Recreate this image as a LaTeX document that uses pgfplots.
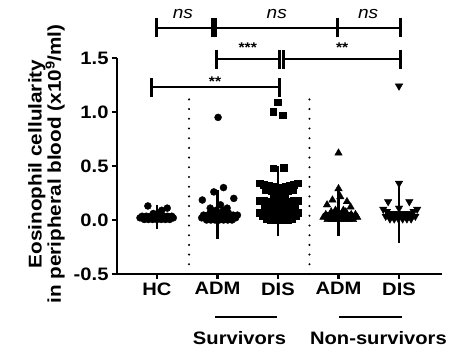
\documentclass[border=0pt]{standalone}
\usepackage{fontspec}
\setmainfont{Liberation Sans}[FakeStretch=1.12]
\usepackage{pgfplots}
\pgfplotsset{compat=1.18}
\newcommand{\sigbar}[3]{%
  \draw[line width=2.4pt] (axis cs:#1,#3) -- (axis cs:#2,#3);
  \draw[line width=3pt] ([yshift=-9.5pt]axis cs:#1,#3) -- ([yshift=9.5pt]axis cs:#1,#3);
  \draw[line width=3pt] ([yshift=-9.5pt]axis cs:#2,#3) -- ([yshift=9.5pt]axis cs:#2,#3);}
\begin{document}
\begin{tikzpicture}
\begin{axis}[
  at={(0,0)}, anchor=south west,
  scale only axis, width=325pt, height=216pt,
  xmin=-0.66, xmax=4.71, ymin=-0.5, ymax=1.5,
  axis x line=bottom, axis y line=left,
  axis line style={-, line width=2.4pt},
  clip=false,
  xtick={0,1,2,3,4}, xticklabels={HC,ADM,DIS,ADM,DIS},
  ytick={-0.5,0,0.5,1,1.5}, yticklabels={-0.5,0.0,0.5,1.0,1.5},
  tick align=outside, major tick length=5pt,
  tick style={line width=2.4pt, black},
  xticklabel style={font=\fontsize{18}{20}\selectfont\bfseries},
  yticklabel style={font=\fontsize{18}{20}\selectfont\bfseries},
]
% dotted separators
\draw[line width=2.3pt, line cap=round, dash pattern=on 0pt off 9.7pt] (axis cs:0.53,-0.5) -- (axis cs:0.53,1.13);
\draw[line width=2.3pt, line cap=round, dash pattern=on 0pt off 9.7pt] (axis cs:2.52,-0.5) -- (axis cs:2.52,1.13);

% HC
\addplot[only marks, mark=*, mark size=3.5pt, black] coordinates {
(-0.21,0.005)(-0.14,0.005)(-0.07,0.005)(0,0.005)(0.07,0.005)(0.14,0.005)(0.21,0.005)
(-0.28,0.02)(-0.21,0.02)(-0.14,0.02)(-0.07,0.02)(0,0.02)(0.07,0.02)(0.14,0.02)(0.21,0.02)(0.27,0.02)
(-0.245,0.035)(-0.175,0.035)(-0.105,0.035)(-0.035,0.035)(0.035,0.035)(0.105,0.035)(0.175,0.035)(0.245,0.035)
(-0.06,0.06)(0.04,0.065)(0.08,0.09)(0.17,0.11)(-0.15,0.13)
};
% ADM survivors
\addplot[only marks, mark=*, mark size=3.5pt, black] coordinates {
(0.82,0.0)(0.89,0.0)(0.96,0.0)(1.03,0.0)(1.10,0.0)(1.17,0.0)(1.24,0.0)
(0.74,0.02)(0.81,0.02)(0.88,0.02)(0.95,0.02)(1.02,0.02)(1.09,0.02)(1.16,0.02)(1.23,0.02)(1.30,0.02)
(0.77,0.045)(0.84,0.045)(0.91,0.045)(0.98,0.045)(1.05,0.045)(1.12,0.045)(1.19,0.045)(1.26,0.045)(1.33,0.045)
(0.88,0.065)(0.98,0.065)(1.08,0.065)(1.18,0.065)
(0.98,0.09)(1.10,0.09)(0.88,0.11)(1.05,0.14)(1.16,0.11)
(0.75,0.185)(1.27,0.20)(0.94,0.26)(1.10,0.30)(1.01,0.95)
};
% DIS survivors
\addplot[only marks, mark=square*, mark size=3.4pt, black] coordinates {
(1.70,0.34)(1.77,0.33)(1.84,0.32)(1.91,0.31)(1.98,0.30)(2.05,0.30)(2.12,0.31)(2.19,0.32)(2.26,0.33)(2.33,0.34)
(1.80,0.28)(1.89,0.27)(1.98,0.26)(2.07,0.26)(2.16,0.27)(2.25,0.28)
(1.92,0.22)(2.02,0.21)(2.12,0.22)
(1.70,0.18)(1.77,0.175)(1.84,0.17)(1.91,0.165)(1.98,0.16)(2.05,0.16)(2.12,0.165)(2.19,0.17)(2.26,0.175)(2.33,0.18)
(1.78,0.13)(1.88,0.125)(1.98,0.12)(2.08,0.12)(2.18,0.125)(2.27,0.13)
(1.70,0.07)(1.77,0.065)(1.84,0.06)(1.91,0.06)(1.98,0.06)(2.05,0.06)(2.12,0.06)(2.19,0.06)(2.26,0.065)(2.33,0.07)
(1.74,0.04)(1.81,0.035)(1.88,0.035)(1.95,0.035)(2.02,0.035)(2.09,0.035)(2.16,0.035)(2.23,0.035)(2.30,0.04)
(1.81,0.01)(1.88,0.005)(1.95,0.005)(2.02,0.005)(2.09,0.005)(2.16,0.005)(2.23,0.01)
(1.92,0.48)(2.09,0.485)(2.0,1.09)(1.92,1.0)(2.08,0.97)
};
% ADM non-survivors
\addplot[only marks, mark=triangle*, mark size=4.3pt, black] coordinates {
(2.82,0.005)(2.89,0.005)(2.96,0.005)(3.03,0.005)(3.10,0.005)(3.17,0.005)(3.24,0.005)
(2.75,0.025)(2.82,0.025)(2.89,0.025)(2.96,0.025)(3.03,0.025)(3.10,0.025)(3.17,0.025)(3.24,0.025)(3.31,0.025)
(2.79,0.05)(2.86,0.05)(2.93,0.05)(3.0,0.05)(3.07,0.05)(3.14,0.05)(3.21,0.05)(3.28,0.05)
(2.88,0.075)(3.0,0.075)(3.12,0.075)
(2.95,0.09)(3.08,0.09)(2.81,0.14)(3.20,0.12)(2.90,0.185)(3.03,0.215)(3.14,0.17)(3.0,0.29)(3.0,0.62)
};
% DIS non-survivors
\addplot[only marks, mark=triangle*, mark size=4.3pt, mark options={rotate=180}, black] coordinates {
(3.74,0.10)(4.30,0.10)(3.80,0.08)(4.24,0.08)
(3.83,0.06)(3.90,0.06)(3.97,0.06)(4.04,0.06)(4.11,0.06)(4.18,0.06)
(3.78,0.035)(3.85,0.035)(3.92,0.035)(3.99,0.035)(4.06,0.035)(4.13,0.035)(4.20,0.035)(4.27,0.035)
(3.85,0.01)(3.92,0.01)(3.99,0.01)(4.06,0.01)(4.13,0.01)(4.20,0.01)
(3.82,0.17)(4.17,0.17)(4.0,0.11)(4.0,0.34)(4.0,1.24)
};
% mean +- SD
\addplot[black, only marks, mark=-, mark size=14pt, mark options={line width=2.4pt},
  error bars/.cd, y dir=both, y explicit,
  error bar style={line width=2.4pt},
  error mark options={line width=2.4pt, mark size=10pt}] coordinates {
(0,0.03) +- (0,0.02)
(1,0.05) +- (0,0.135)
(2,0.175) +- (0,0.235)
(3,0.06) +- (0,0.12)
(4,0.065) +- (0,0.185)
};

% significance bars
\sigbar{0}{0.92}{1.778}
\sigbar{0.975}{2.98}{1.778}
\sigbar{2.98}{4.02}{1.778}
\sigbar{0.985}{2.025}{1.49}
\sigbar{2.085}{4.02}{1.49}
\sigbar{-0.09}{2.02}{1.23}
\node[anchor=base, font=\fontsize{17}{20}\selectfont\itshape] at (axis cs:0.43,1.87) {ns};
\node[anchor=base, font=\fontsize{17}{20}\selectfont\itshape] at (axis cs:1.98,1.87) {ns};
\node[anchor=base, font=\fontsize{17}{20}\selectfont\itshape] at (axis cs:3.49,1.87) {ns};
\node[anchor=base, font=\fontsize{14}{16}\selectfont\bfseries] at (axis cs:1.50,1.55) {***};
\node[anchor=base, font=\fontsize{14}{16}\selectfont\bfseries] at (axis cs:3.06,1.55) {**};
\node[anchor=base, font=\fontsize{14}{16}\selectfont\bfseries] at (axis cs:0.96,1.24) {**};

% group labels
\draw[line width=2.4pt] (axis cs:0.96,-0.898) -- (axis cs:1.98,-0.898);
\draw[line width=2.4pt] (axis cs:3.01,-0.898) -- (axis cs:4.05,-0.898);
\node[anchor=base, font=\fontsize{18}{20}\selectfont\bfseries] at (axis cs:1.364,-1.157) {Survivors};
\node[anchor=base, font=\fontsize{18}{20}\selectfont\bfseries] at (axis cs:3.66,-1.157) {Non-survivors};
\end{axis}
\node[rotate=90, anchor=base, font=\fontsize{18.5}{20}\selectfont\bfseries] at (-75.3pt,110pt) {Eosinophil cellularity};
\node[rotate=90, anchor=base, font=\fontsize{18.5}{20}\selectfont\bfseries] at (-56pt,110pt) {in peripheral blood (x10\textsuperscript{9}/ml)};
\pgfresetboundingbox
\path (-117pt,-81pt) rectangle (344pt,274pt);
\end{tikzpicture}
\end{document}
